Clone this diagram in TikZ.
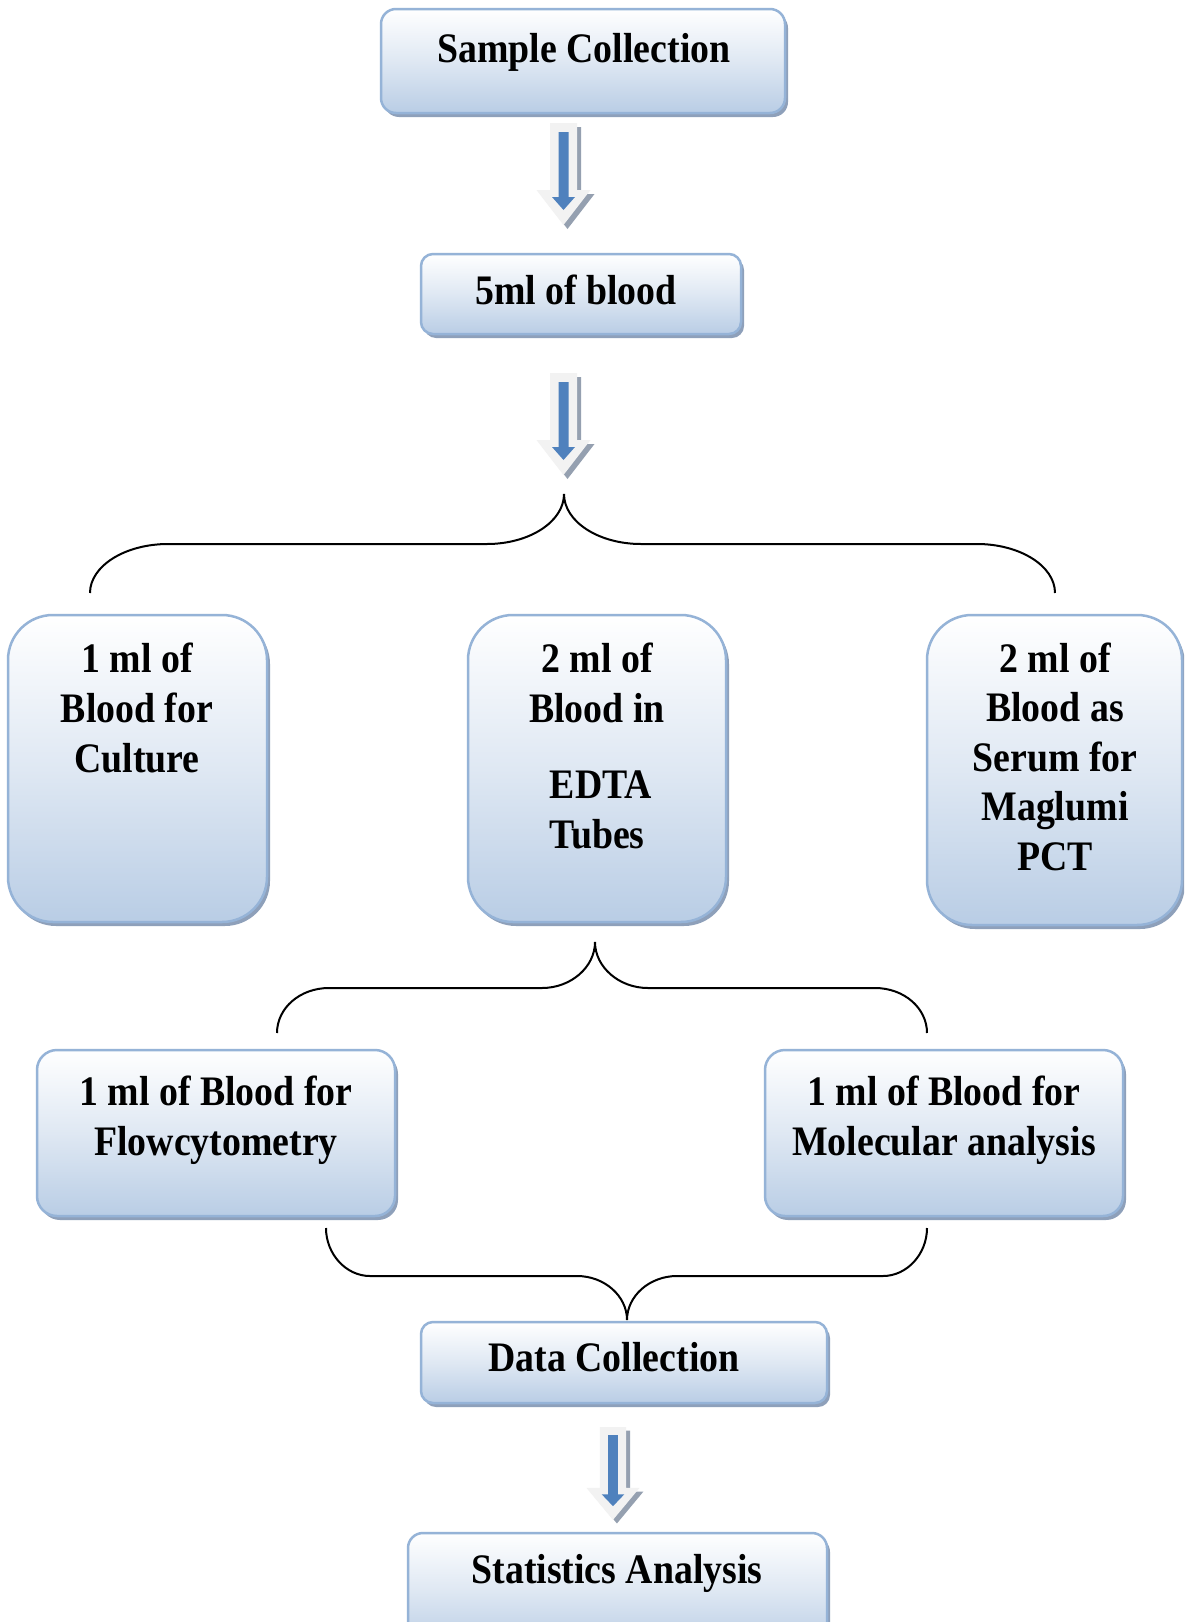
\documentclass[tikz,border=0pt]{standalone}
\usepackage{fontspec}
\setmainfont{Liberation Serif}[FakeStretch=0.9]
\usetikzlibrary{shadows}
\definecolor{bordc}{HTML}{95B3D7}
\definecolor{boxbot}{HTML}{B9CDE5}
\definecolor{boxmid}{HTML}{DFE8F3}
\definecolor{shadc}{HTML}{8EA0BA}
\definecolor{arrlight}{HTML}{F2F2F2}
\definecolor{arrshad}{HTML}{95A0B0}
\definecolor{arrblue}{HTML}{4F81BD}
\tikzset{
  bigarrow/.pic={
    \fill[arrshad] (-9.5,4) -- (17.5,4) -- (17.5,71) -- (31,71) -- (4,106) -- (-23,71) -- (-9.5,71) -- cycle;
    \fill[arrlight] (-13.5,0) -- (13.5,0) -- (13.5,67) -- (27,67) -- (0,102) -- (-27,67) -- (-13.5,67) -- cycle;
    \fill[arrblue] (-5,9) -- (5,9) -- (5,74) -- (11.5,74) -- (0,87) -- (-11.5,74) -- (-5,74) -- cycle;
  }
}
\begin{document}
\begin{tikzpicture}[x=1pt,y=-1pt,
  box/.style={draw=bordc, line width=2.5pt, top color=white, bottom color=boxbot,
    middle color=boxmid, inner sep=0pt,
    drop shadow={shadow xshift=3pt, shadow yshift=-4pt, fill=shadc, opacity=1}},
  lbl/.style={anchor=base, inner sep=0pt, font=\fontsize{42}{50}\selectfont\bfseries},
  brace/.style={draw=black, line width=2pt}]
\useasboundingbox (0,0) rectangle (1184,1622);
\clip (0,0) rectangle (1184,1622);
\fill[white] (0,0) rectangle (1184,1622);

% boxes
\node[box, minimum width=404pt, minimum height=104pt, rounded corners=15pt] (sc) at (583,61) {};
\node[box, minimum width=320pt, minimum height=80pt, rounded corners=12pt] (bl) at (581,294) {};
\node[box, minimum width=259pt, minimum height=307pt, rounded corners=45pt] (cu) at (137.5,768.5) {};
\node[box, minimum width=258pt, minimum height=307pt, rounded corners=45pt] (ed) at (597,768.5) {};
\node[box, minimum width=255pt, minimum height=310pt, rounded corners=45pt] (mg) at (1054.5,770) {};
\node[box, minimum width=358pt, minimum height=166pt, rounded corners=20pt] (fl) at (216,1133) {};
\node[box, minimum width=358pt, minimum height=166pt, rounded corners=20pt] (mo) at (944,1133) {};
\node[box, minimum width=406pt, minimum height=81pt, rounded corners=12pt] (dc) at (624,1362.5) {};
\node[box, minimum width=419pt, minimum height=114pt, rounded corners=15pt] (st) at (617.5,1590) {};

% texts
\node[lbl] (tsc) at (584,62) {\parbox[t]{420pt}{\centering Sample Collection}};
\node[lbl] (tbl) at (576,304) {\parbox[t]{420pt}{\centering 5ml of blood}};
\node[lbl] (tcu) at (137,672) {\parbox[t]{300pt}{\centering 1 ml of\\Blood for\\Culture}};
\node[lbl] (ted) at (597,672) {\parbox[t]{300pt}{\centering 2 ml of\\Blood in\\[26pt]\hspace*{8pt}EDTA\\Tubes}};
\node[lbl] (tmg) at (1055,672) {\parbox[t]{300pt}{\baselineskip=49.5pt\centering 2 ml of\\Blood as\\Serum for\\Maglumi\\PCT}};
\node[lbl] (tfl) at (216,1105) {\parbox[t]{400pt}{\centering 1 ml of Blood for\\Flowcytometry}};
\node[lbl] (tmo) at (944,1105) {\parbox[t]{400pt}{\centering 1 ml of Blood for\\Molecular analysis}};
\node[lbl] (tdc) at (614,1371) {\parbox[t]{420pt}{\centering Data Collection}};
\node[lbl] (tst) at (617,1583) {\parbox[t]{420pt}{\centering Statistics Analysis}};

% block arrows
\pic at (563.5,123) {bigarrow};
\pic at (563.5,373) {bigarrow};
\pic[xscale=0.98, yscale=0.91] at (613,1427) {bigarrow};

% braces
\coordinate (b1l) at (90,593);
\coordinate (b1t) at (564,494);
\coordinate (b1r) at (1055,593);
\draw[brace] (b1l) .. controls (90,566) and (125,544) .. (168,544) -- (487,544)
  .. controls (529.5,544) and (564,521.6) .. (b1t)
  .. controls (564,521.6) and (598.5,544) .. (641,544) -- (977,544)
  .. controls (1020,544) and (1055,566) .. (b1r);

\coordinate (b2l) at (277,1033);
\coordinate (b2t) at (595,942);
\coordinate (b2r) at (927,1033);
\draw[brace] (b2l) .. controls (277,1008) and (300,988) .. (329,988) -- (542,988)
  .. controls (571,988) and (595,967) .. (b2t)
  .. controls (595,967) and (619,988) .. (648,988) -- (875,988)
  .. controls (904,988) and (927,1008) .. (b2r);

\coordinate (b3l) at (326,1228);
\coordinate (b3t) at (627,1320);
\coordinate (b3r) at (927,1228);
\draw[brace] (b3l) .. controls (326,1254) and (346,1276) .. (370,1276) -- (577,1276)
  .. controls (604.5,1276) and (627,1296) .. (b3t)
  .. controls (627,1296) and (649.5,1276) .. (677,1276) -- (883,1276)
  .. controls (907,1276) and (927,1254) .. (b3r);
\end{tikzpicture}
\end{document}
